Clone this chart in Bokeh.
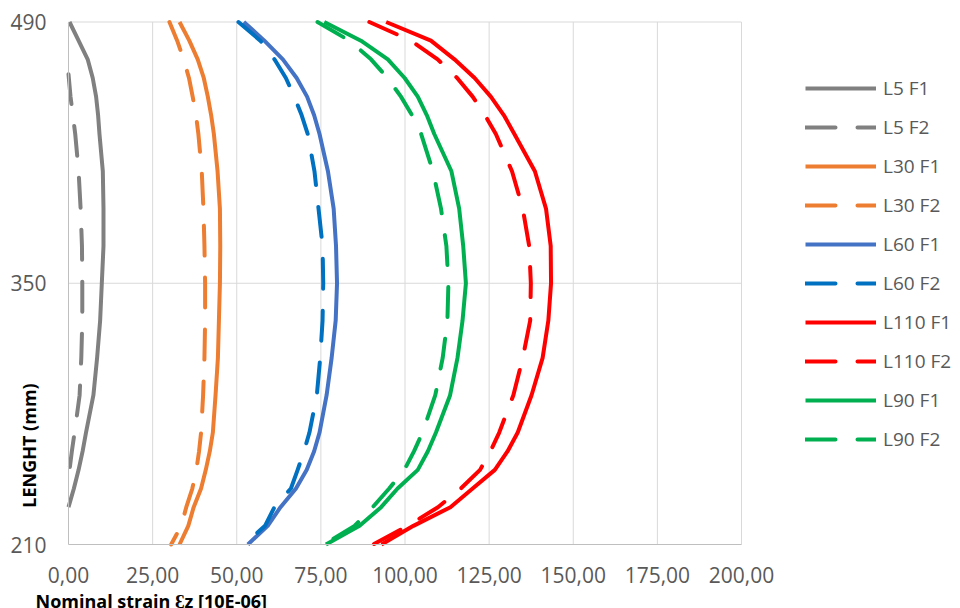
import math
from bokeh.plotting import figure
from bokeh.models import Range1d, FixedTicker, Legend, LegendItem, Label
from bokeh.embed import file_html
from bokeh.resources import INLINE

# ---- data ----
length = [490, 480, 470, 460, 450, 440, 430, 410, 390, 370, 350, 330, 310, 290, 270, 260, 250, 240, 230, 220, 210]

l5_f1_length = [490, 480, 470, 460, 450, 440, 430, 410, 390, 370, 350, 330, 310, 290, 270, 260, 250, 240, 230]
l5_f1 = [0.3, 3.0, 5.7, 7.2, 8.2, 8.8, 9.2, 10.2, 10.4, 10.4, 9.9, 9.4, 8.5, 7.4, 5.2, 4.2, 3.0, 1.6, 0.0]
l5_f2_length = [462, 450, 440, 430, 410, 390, 370, 350, 330, 310, 290, 270, 260, 250, 247]
l5_f2 = [0.0, 0.6, 1.3, 2.0, 3.0, 3.6, 4.0, 4.1, 4.1, 3.8, 3.3, 1.8, 1.0, 0.3, 0.0]
l30_f1 = [33.0, 35.9, 38.4, 40.2, 41.4, 42.4, 43.2, 44.3, 45.0, 45.1, 45.0, 44.7, 44.4, 43.7, 42.9, 42.0, 40.8, 39.4, 37.2, 35.6, 33.0]
l30_f2 = [30.0, 32.3, 34.2, 35.8, 36.9, 37.9, 38.6, 39.6, 40.1, 40.4, 40.6, 40.6, 40.4, 40.0, 39.4, 38.8, 38.0, 36.8, 35.0, 33.5, 30.5]
l60_f1 = [52.1, 58.2, 63.7, 67.8, 70.9, 73.0, 74.6, 77.1, 78.8, 79.5, 79.8, 79.4, 78.2, 76.7, 74.6, 73.0, 70.8, 67.6, 63.0, 59.2, 53.3]
l60_f2 = [50.5, 57.0, 61.2, 64.6, 67.1, 69.3, 71.1, 73.1, 74.3, 75.5, 75.7, 75.5, 74.8, 73.8, 71.6, 70.0, 68.1, 66.1, 61.2, 58.4, 52.3]
l110_f1 = [94.4, 107.7, 114.7, 120.7, 125.5, 129.4, 132.5, 138.6, 141.9, 143.3, 143.4, 142.6, 140.9, 137.6, 133.5, 130.5, 126.7, 120.1, 113.5, 102.5, 93.0]
l110_f2 = [89.4, 101.8, 109.7, 115.5, 120.1, 123.8, 127.0, 131.8, 135.0, 136.9, 137.4, 137.2, 135.0, 132.2, 128.0, 125.4, 122.3, 116.6, 109.8, 100.8, 90.5]
l90_f1 = [76.0, 86.9, 94.9, 99.9, 103.8, 106.5, 108.7, 113.8, 116.1, 117.3, 118.1, 117.1, 115.6, 113.4, 109.2, 106.8, 103.8, 97.8, 92.9, 86.5, 76.5]
l90_f2 = [74.0, 83.5, 89.9, 94.8, 98.8, 102.1, 104.8, 108.3, 110.7, 112.3, 112.9, 112.6, 111.2, 109.0, 105.2, 102.7, 99.8, 95.3, 90.4, 85.0, 76.0]

series_names = ["L5 F1", "L5 F2", "L30 F1", "L30 F2", "L60 F1", "L60 F2",
                "L110 F1", "L110 F2", "L90 F1", "L90 F2"]
series_values = [l5_f1, l5_f2, l30_f1, l30_f2, l60_f1, l60_f2,
                 l110_f1, l110_f2, l90_f1, l90_f2]
series_lengths = [l5_f1_length, l5_f2_length, length, length, length, length,
                  length, length, length, length]
series_colors = ["#808080", "#808080", "#ED7D31", "#ED7D31", "#4472C4", "#0070C0",
                 "#FF0000", "#FF0000", "#00B050", "#00B050"]
series_dashed = [False, True, False, True, False, True, False, True, False, True]

x_min, x_max = 0, 200
y_min, y_max = 210, 490
x_ticks = [0, 25, 50, 75, 100, 125, 150, 175, 200]
x_tick_labels = ["0,00", "25,00", "50,00", "75,00", "100,00", "125,00", "150,00", "175,00", "200,00"]
y_ticks = [210, 350, 490]

x_title = "Nominal strain \u0190z [10E-06]"
y_title = "LENGHT (mm)"

FONT = "Open Sans"
TXT = "#595959"
GRID = "#D9D9D9"

# The frame covers the whole canvas; the plot area (0..200 x 210..490) sits inside it
# so that the legend and the axis titles (outside the plot area) are not clipped.
W, H = 960, 608
px_left, px_right = 68.0, 741.0      # canvas x of x=0 and x=200
py_top, py_bottom = 21.5, 544.0      # canvas y of y=490 and y=210
kx = (px_right - px_left) / (x_max - x_min)
ky = (py_bottom - py_top) / (y_max - y_min)
xr = Range1d(x_min - px_left / kx, x_max + (W - px_right) / kx)
yr = Range1d(y_min - (H - py_bottom) / ky, y_max + py_top / ky)


def dx(px):
    return xr.start + px / kx


def dy(py):
    return yr.end - py / ky


p = figure(width=W, height=H, output_backend="svg", toolbar_location=None,
           x_range=xr, y_range=yr,
           min_border_left=0, min_border_right=0, min_border_top=0, min_border_bottom=0)
p.outline_line_color = None
p.background_fill_color = "white"
p.border_fill_color = "white"
p.xgrid.visible = False
p.ygrid.visible = False

# grid lines of the plot area (at the tick positions)
gx = x_ticks[1:]
p.segment(x0=gx, y0=[y_min] * len(gx), x1=gx, y1=[y_max] * len(gx),
          line_color=GRID, line_width=1)
gy = y_ticks[1:]
p.segment(x0=[x_min] * len(gy), y0=gy, x1=[x_max] * len(gy), y1=gy,
          line_color=GRID, line_width=1)

p.xaxis.fixed_location = y_min
p.yaxis.fixed_location = x_min
p.xaxis.bounds = (x_min, x_max)
p.yaxis.bounds = (y_min, y_max)
p.xaxis.ticker = FixedTicker(ticks=x_ticks)
p.yaxis.ticker = FixedTicker(ticks=y_ticks)
p.xaxis.major_label_overrides = {t: l for t, l in zip(x_ticks, x_tick_labels)}
for ax in (p.xaxis, p.yaxis):
    ax.major_tick_line_color = None
    ax.minor_tick_line_color = None
    ax.major_tick_out = 0
    ax.major_tick_in = 0
    ax.minor_tick_out = 0
    ax.minor_tick_in = 0
    ax.axis_line_color = "#BFBFBF"
    ax.axis_line_width = 1
    ax.major_label_text_font = FONT
    ax.major_label_text_font_size = "21px"
    ax.major_label_text_color = TXT
p.xaxis.major_label_standoff = 22
p.yaxis.major_label_standoff = 22

items = []
for name, ys, vals, col, dashed in zip(series_names, series_lengths, series_values,
                                       series_colors, series_dashed):
    r = p.line(vals, ys, line_color=col, line_width=4,
               line_dash="30 22" if dashed else "solid",
               line_cap="round" if dashed else "butt", line_join="round")
    items.append(LegendItem(label=name, renderers=[r]))

legend = Legend(items=items, location=(805, 156))
legend.glyph_width = 71
legend.glyph_height = 20
legend.label_height = 20
legend.label_standoff = 7
legend.spacing = 13
legend.padding = 0
legend.margin = 0
legend.border_line_color = None
legend.background_fill_alpha = 0
legend.label_text_font = FONT
legend.label_text_font_size = "19px"
legend.label_text_color = TXT
p.add_layout(legend)

p.add_layout(Label(x=dx(35), y=dy(600), text=x_title,
                   text_font=FONT, text_font_style="bold", text_font_size="18px",
                   text_color="black", text_align="left", text_baseline="alphabetic"))
p.add_layout(Label(x=dx(28.5), y=dy(445), text=y_title, angle=math.pi / 2,
                   text_font=FONT, text_font_style="bold", text_font_size="18px",
                   text_color="black", text_align="center", text_baseline="middle"))

open("out.html", "w").write(file_html(p, INLINE))
